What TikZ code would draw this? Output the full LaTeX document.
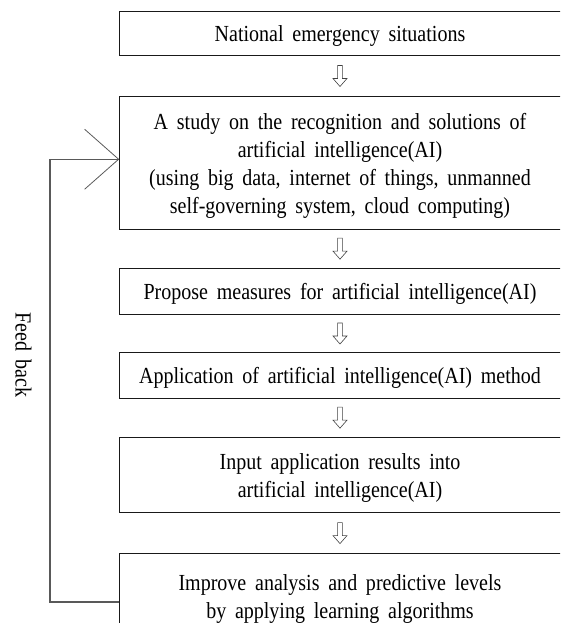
\documentclass[tikz,border=0pt]{standalone}
\usepackage{fontspec}
\setmainfont{Liberation Serif}[FakeStretch=0.87,WordSpace=1.75]
\usetikzlibrary{calc}

% fixed line height and depth so every box sets its text the same way
\newcommand{\stepstrut}{\rule[-5pt]{0pt}{27pt}}

\tikzset{
  stepbox/.style={draw=black!90, line width=0.75pt, rectangle, minimum width=442pt,
    inner sep=0pt, align=center, font=\fontsize{23}{28}\selectfont},
  fb/.style={draw=black!65, line width=1.1pt},
  hollowarrow/.pic={
    \draw[black!75, line width=0.6pt, line join=miter]
      (-2.4,-10.5) -- (2.4,-10.5) -- (2.4,2.5) -- (7,2.5) -- (0,10.5)
      -- (-7,2.5) -- (-2.4,2.5) -- cycle;
  }
}

\begin{document}
\begin{tikzpicture}[x=1pt,y=-1pt]
\useasboundingbox (0,0) rectangle (560,623);
\clip (0,0) rectangle (560,623);

% process steps, top to bottom
\node[stepbox, minimum height=44pt]   (b1) at (340,33.5)
  {\stepstrut National emergency situations};
\node[stepbox, minimum height=132.5pt] (b2) at (340,162.75)
  {\stepstrut A study on the recognition and solutions of\\
   \stepstrut artificial intelligence(AI)\\
   \stepstrut (using big data, internet of things, unmanned\\
   \stepstrut self-governing system, cloud computing)};
\node[stepbox, minimum height=46pt]   (b3) at (340,291.3)
  {\stepstrut Propose measures for artificial intelligence(AI)};
\node[stepbox, minimum height=45.3pt] (b4) at (340,375.35)
  {\stepstrut Application of artificial intelligence(AI) method};
\node[stepbox, minimum height=75.4pt] (b5) at (340,475)
  {\stepstrut Input application results into\\
   \stepstrut artificial intelligence(AI)};
\node[stepbox, minimum height=84pt]   (b6) at (340,595.5)
  {\stepstrut Improve analysis and predictive levels\\
   \stepstrut by applying learning algorithms};

% hollow down arrows between the steps
\pic at ($(b1.south)!0.5!(b2.north)$) {hollowarrow};
\pic at ($(b2.south)!0.5!(b3.north)$) {hollowarrow};
\pic at ($(b3.south)!0.5!(b4.north)$) {hollowarrow};
\pic at ($(b4.south)!0.5!(b5.north)$) {hollowarrow};
\pic at ($(b5.south)!0.5!(b6.north)$) {hollowarrow};

% feedback loop from the last step back to the study step
\coordinate (fbin)  at ([yshift=-6.5pt]b6.west);
\coordinate (fbout) at ([yshift=3.5pt]b2.west);
\coordinate (fbcol) at (50,0);
\draw[fb] (fbin) -- (fbcol |- fbin) -- (fbcol |- fbout) -- (fbout);
\draw[fb, line width=0.8pt] ($(fbout)+(-34,-30)$) -- (fbout) -- ($(fbout)+(-34,30)$);

\node[rotate=-90, font=\fontsize{23}{28}\selectfont] (fblabel) at (23.5,355) {Feed back};
\end{tikzpicture}
\end{document}
